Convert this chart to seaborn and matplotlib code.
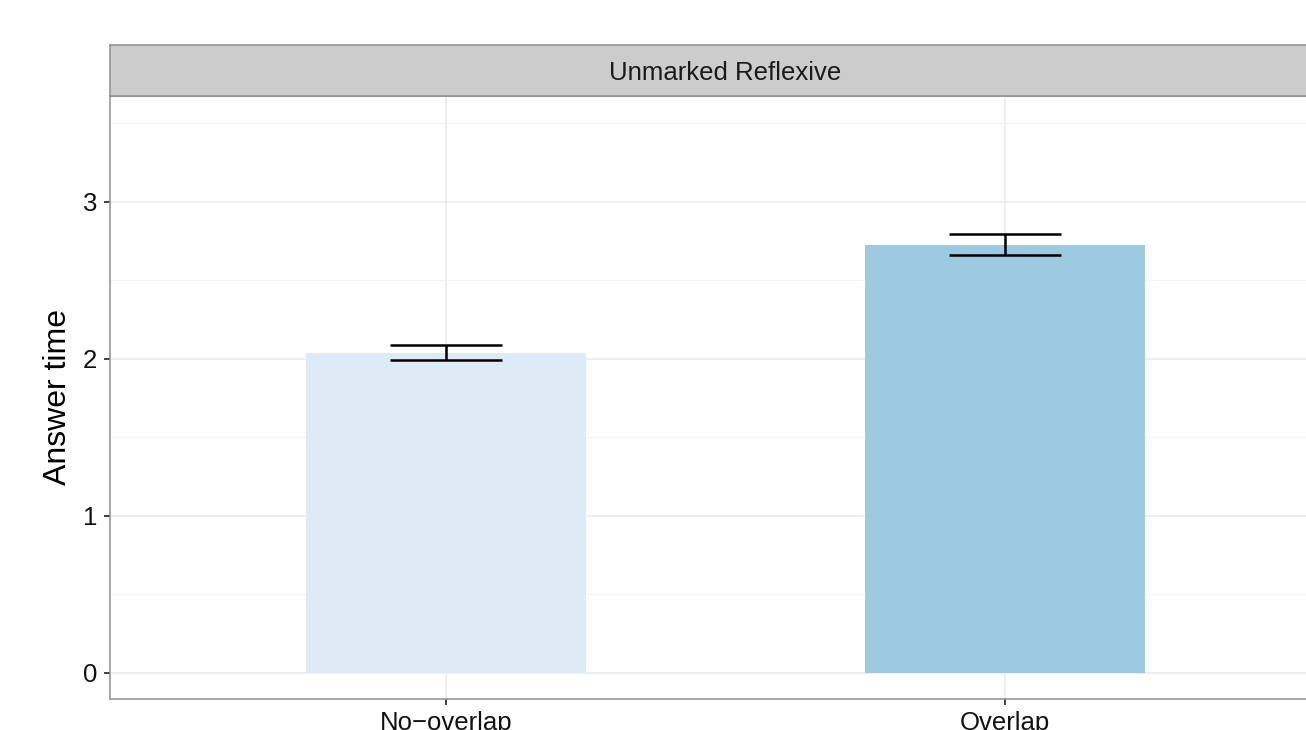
import matplotlib
matplotlib.use("Agg")
import matplotlib.pyplot as plt
import seaborn as sns
import pandas as pd

# Mean answer times with lower/upper error-bar bounds
conditions = ["No\u2212overlap", "Overlap"]
answer_time = [2.038, 2.726]
err_low = [1.994, 2.662]
err_high = [2.089, 2.796]
bar_colors = ["#DEEBF7", "#9ECAE1"]
panel_title = "Unmarked Reflexive"

sns.set_theme(style="white")
plt.rcParams["font.family"] = ["Liberation Sans", "DejaVu Sans"]

fig = plt.figure(figsize=(13.06, 7.30), dpi=100)
ax = fig.add_axes([0.0842, 0.0425, 0.9426, 0.826])
strip = fig.add_axes([0.0842, 0.8685, 0.9426, 0.0699])

df = pd.DataFrame({"condition": conditions, "time": answer_time})
sns.barplot(data=df, x="condition", y="time", hue="condition",
            palette=bar_colors, width=0.5, legend=False, ax=ax,
            saturation=1, zorder=2, linewidth=0)

xs = list(range(len(conditions)))
# error bars span err_low..err_high at each bar
mid = [(lo + hi) / 2 for lo, hi in zip(err_low, err_high)]
half_lo = [m - lo for m, lo in zip(mid, err_low)]
half_hi = [hi - m for m, hi in zip(mid, err_high)]
ax.errorbar(xs, mid, yerr=[half_lo, half_hi], fmt="none", ecolor="black",
            elinewidth=1.8, capsize=40, capthick=1.8, zorder=3)

ax.set_xlim(-0.6, 1.6)
ax.set_ylim(-0.166, 3.675)
ax.set_yticks([0, 1, 2, 3])
ax.set_yticks([0.5, 1.5, 2.5, 3.5], minor=True)
ax.set_xticks(xs)
ax.set_xticklabels(conditions)

ax.grid(True, which="major", color="#EBEBEB", linewidth=1.1, zorder=0)
ax.grid(True, which="minor", axis="y", color="#F4F4F4", linewidth=0.8, zorder=0)
ax.set_axisbelow(True)

ax.tick_params(axis="both", which="major", direction="out", length=4.5,
               width=1.2, color="#222222", labelsize=18.5, labelcolor="#111111",
               bottom=True, left=True, pad=4.5)
ax.tick_params(axis="both", which="minor", length=0)
ax.set_xlabel("")
ax.set_ylabel("Answer time", fontsize=23, color="black", labelpad=7)
for s in ax.spines.values():
    s.set_color("#8f8f8f")
    s.set_linewidth(1.1)

strip.set_facecolor("#CCCCCC")
strip.set_xticks([])
strip.set_yticks([])
for s in strip.spines.values():
    s.set_color("#8f8f8f")
    s.set_linewidth(1.1)
strip.text(0.5, 0.46, panel_title, transform=strip.transAxes, ha="center",
           va="center", fontsize=18.5, color="#1A1A1A")

fig.savefig("out.png", dpi=100)
